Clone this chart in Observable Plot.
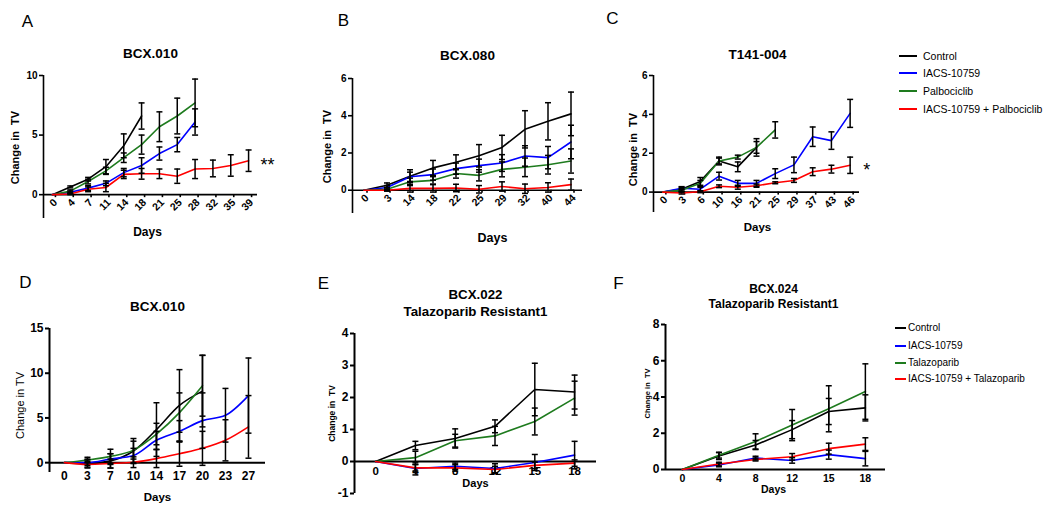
<!DOCTYPE html>
<html><head><meta charset="utf-8">
<script src="https://cdn.jsdelivr.net/npm/d3@7"></script>
<script src="https://cdn.jsdelivr.net/npm/@observablehq/plot@0.6"></script>
<style>
body{margin:0;background:#fff;font-family:"Liberation Sans",Arial,sans-serif}
#root{position:relative;width:1050px;height:513px;overflow:hidden;background:#fff}
.panel{position:absolute}
.panel svg{overflow:visible}
.lg{position:absolute;font-size:10px;color:#000;white-space:nowrap;line-height:1}
.lg .row{position:absolute;display:flex;align-items:center}
.lg .sw{display:inline-block;height:2px}
</style></head><body><div id="root"></div>
<script>
// ---------- data ----------
const colorControl = "#000000", colorIacs = "#0000ff", colorDrug = "#1e7b1e", colorCombo = "#ff0000";
const legendTop = ["Control", "IACS-10759", "Palbociclib", "IACS-10759 + Palbociclib"];
const legendBottom = ["Control", "IACS-10759", "Talazoparib", "IACS-10759 + Talazoparib"];
const legendColors = [colorControl, colorIacs, colorDrug, colorCombo];

// Panel A  BCX.010 (Palbociclib)
const daysA = [0, 4, 7, 11, 14, 18, 21, 25, 28, 32, 35, 39];
const aControl = [0, 0.65, 1.3, 2.35, 4.1, 6.6];
const aControlErr = [0, 0.08, 0.15, 0.6, 1.0, 1.1];
const aIacs = [0, 0.2, 0.55, 0.95, 1.85, 2.45, 3.45, 4.2, 6.1];
const aIacsErr = [0, 0.1, 0.2, 0.2, 0.35, 0.65, 0.55, 0.6, 1.1];
const aPalbo = [0, 0.3, 1.1, 2.0, 3.1, 4.2, 5.7, 6.6, 7.7];
const aPalboErr = [0, 0.1, 0.2, 0.3, 0.4, 0.8, 1.25, 1.5, 2.0];
const aCombo = [0, 0.05, 0.45, 0.6, 1.7, 1.75, 1.75, 1.55, 2.15, 2.2, 2.45, 2.85];
const aComboErr = [0, 0.05, 0.2, 0.35, 0.35, 0.45, 0.4, 0.6, 0.8, 0.7, 0.9, 0.9];

// Panel B  BCX.080
const daysB = [0, 3, 14, 18, 22, 25, 29, 32, 40, 44];
const bControl = [0, 0.27, 0.75, 1.2, 1.5, 1.85, 2.3, 3.27, 3.7, 4.1];
const bControlErr = [0, 0.12, 0.35, 0.4, 0.4, 0.6, 0.65, 1.0, 1.0, 1.17];
const bIacs = [0, 0.15, 0.72, 0.84, 1.16, 1.32, 1.46, 1.84, 1.75, 2.59];
const bIacsErr = [0, 0.1, 0.25, 0.3, 0.3, 0.35, 0.45, 0.55, 0.6, 0.9];
const bPalbo = [0, 0.05, 0.45, 0.53, 0.9, 0.8, 1.12, 1.23, 1.37, 1.57];
const bPalboErr = [0, 0.08, 0.2, 0.2, 0.25, 0.3, 0.4, 0.5, 0.5, 0.65];
const bCombo = [0, 0, 0.1, 0.1, 0.12, 0.05, 0.2, 0.08, 0.15, 0.3];
const bComboErr = [0, 0.05, 0.2, 0.2, 0.2, 0.2, 0.25, 0.25, 0.25, 0.3];

// Panel C  T141-004
const daysC = [0, 3, 6, 10, 16, 21, 25, 29, 37, 43, 46];
const cControl = [0, 0.15, 0.55, 1.6, 1.3, 2.3];
const cControlErr = [0, 0.1, 0.2, 0.2, 0.25, 0.45];
const cIacs = [0, 0.2, 0.15, 0.82, 0.45, 0.45, 0.95, 1.4, 2.85, 2.65, 4.05];
const cIacsErr = [0, 0.08, 0.1, 0.2, 0.15, 0.15, 0.25, 0.4, 0.5, 0.45, 0.72];
const cPalbo = [0, 0.1, 0.45, 1.6, 1.8, 2.3, 3.2];
const cPalboErr = [0, 0.08, 0.15, 0.15, 0.1, 0.3, 0.42];
const cCombo = [0, -0.05, 0.02, 0.3, 0.25, 0.33, 0.48, 0.6, 1.05, 1.18, 1.38];
const cComboErr = [0, 0.05, 0.05, 0.07, 0.1, 0.08, 0.05, 0.1, 0.2, 0.2, 0.42];

// Panel D  BCX.010 (Talazoparib)
const daysD = [0, 3, 7, 10, 14, 17, 20, 23, 27];
const dControl = [0, -0.1, 0.2, 1.3, 3.7, 6.4, 8.0];
const dControlErr = [0, 0.5, 0.8, 1.4, 3.0, 4.0, 4.0];
const dIacs = [0, 0.0, 0.4, 0.8, 2.5, 3.5, 4.7, 5.3, 7.5];
const dIacsErr = [0, 0.3, 0.6, 0.8, 1.0, 1.2, 3.1, 3.0, 4.2];
const dTala = [0, 0.3, 0.7, 1.4, 3.2, 5.6, 8.6];
const dTalaErr = [0, 0.3, 0.8, 1.0, 1.2, 2.2, 3.4];
const dCombo = [0, -0.2, -0.1, 0.05, 0.45, 1.0, 1.6, 2.5, 4.0];
const dComboErr = [0, 0.3, 0.5, 0.6, 1.0, 1.4, 1.9, 2.3, 3.5];

// Panel E  BCX.022
const daysE = [0, 4, 8, 12, 15, 18];
const eControl = [0, 0.5, 0.72, 1.1, 2.25, 2.17];
const eControlErr = [0, 0.13, 0.3, 0.2, 0.82, 0.53];
const eIacs = [0, -0.22, -0.15, -0.22, -0.03, 0.2];
const eIacsErr = [0, 0.2, 0.1, 0.15, 0.25, 0.43];
const eTala = [0, 0.12, 0.65, 0.8, 1.25, 1.98];
const eTalaErr = [0, 0.2, 0.2, 0.3, 0.42, 0.53];
const eCombo = [0, -0.2, -0.2, -0.25, -0.12, -0.05];
const eComboErr = [0, 0.1, 0.1, 0.1, 0.1, 0.1];

// Panel F  BCX.024
const daysF = [0, 4, 8, 12, 15, 18];
const fControl = [0, 0.75, 1.35, 2.2, 3.2, 3.4];
const fControlErr = [0, 0.2, 0.25, 0.5, 0.72, 0.72];
const fIacs = [0, 0.25, 0.63, 0.5, 0.82, 0.6];
const fIacsErr = [0, 0.1, 0.1, 0.15, 0.25, 0.4];
const fTala = [0, 0.78, 1.55, 2.45, 3.35, 4.3];
const fTalaErr = [0, 0.15, 0.42, 0.86, 1.27, 1.53];
const fCombo = [0, 0.3, 0.55, 0.7, 1.15, 1.4];
const fComboErr = [0, 0.1, 0.08, 0.18, 0.3, 0.35];

// ---------- drawing ----------
const FONT = '"Liberation Sans", Arial, Helvetica, sans-serif';
const capSymbol = {draw(ctx, size) { const r = Math.sqrt(size / Math.PI); ctx.moveTo(-r, 0); ctx.lineTo(r, 0); }};

function makePanel(p) {
  const n = p.days.length;
  const [y0, y1] = p.yDomain;
  const plotH = p.fb - p.ft;
  const zeroUp = (0 - y0) / (y1 - y0) * plotH; // px from frame bottom up to y=0
  const pts = [], bars = [], caps = [];
  p.series.forEach((s, k) => s.values.forEach((v, i) => {
    pts.push({k, i, v});
    const e = s.errors[i];
    if (e > 0) { bars.push({i, lo: v - e, hi: v + e}); caps.push({i, y: v - e}, {i, y: v + e}); }
  }));
  const cx = (p.fl + p.fr) / 2, cy = (p.ft + p.fb) / 2;
  const marks = [
    Plot.ruleY([0], {stroke: "#000", strokeWidth: p.axisW}),
    Plot.ruleX([{x: p.xDomain[0], a: y0, b: y1}], {x: "x", y1: "a", y2: "b", stroke: "#000", strokeWidth: p.axisW}),
    Plot.axisY(p.yTicks, {tickSize: 4, tickPadding: 2, strokeWidth: p.axisW, fontSize: p.yTickFont, fontWeight: "bold", fill: "#000",
      tickFormat: d => (d < 0 ? "-" + Math.abs(d) : String(d)), label: null}),
    Plot.axisX(d3.range(n), {tickFormat: i => String(p.days[i]), tickSize: p.xTickSize, tickPadding: p.xTickPad,
      tickRotate: p.xRotate, dy: -zeroUp, dx: p.xLabelDx || 0, strokeWidth: p.axisW, fontSize: p.xTickFont, fontWeight: "bold", fill: "#000", label: null}),
    ...p.series.map((s, k) => Plot.line(pts.filter(d => d.k === k), {x: "i", y: "v", stroke: s.color, strokeWidth: 1.6, curve: p.curve || "linear"})),
    Plot.ruleX(bars, {x: "i", y1: "lo", y2: "hi", stroke: "#000", strokeWidth: 1.5}),
    Plot.dot(caps, {x: "i", y: "y", r: p.capR, symbol: capSymbol, stroke: "#000", strokeWidth: 1.5, fill: "none"}),
    Plot.text([p.title], {frameAnchor: "top", textAnchor: "middle", lineAnchor: "middle", dx: p.titleX - cx, dy: p.titleY - p.ft,
      fontSize: p.titleFont, fontWeight: "bold", fill: "#000", lineHeight: p.titleLH || 1.2}),
    Plot.text([p.letter], {frameAnchor: "top-left", textAnchor: "middle", lineAnchor: "middle", dx: p.letterX - p.fl, dy: p.letterY - p.ft,
      fontSize: 17, fontWeight: "normal", fill: "#000"}),
    Plot.text([p.yLabel], {frameAnchor: "left", textAnchor: "middle", lineAnchor: "middle", rotate: -90, dx: p.yLabelX - p.fl, dy: p.yLabelY - cy,
      fontSize: p.yLabelFont, fontWeight: p.yLabelWeight, fill: "#000"}),
    Plot.text(["Days"], {frameAnchor: "bottom", textAnchor: "middle", lineAnchor: "middle", dx: p.daysX - cx, dy: p.daysY - p.fb,
      fontSize: p.daysFont, fontWeight: "bold", fill: "#000"})
  ];
  if (p.star) {
    const s = p.series[3];
    const last = s.values.length - 1;
    marks.push(Plot.text([{i: last, v: s.values[last]}], {x: "i", y: "v", text: () => p.star, dx: p.starDx, dy: 5,
      textAnchor: "start", lineAnchor: "middle", fontSize: 18, fontWeight: "normal", fill: "#000"}));
  }
  const svg = Plot.plot({
    width: p.w, height: p.h,
    marginLeft: p.fl - p.ox, marginRight: p.ox + p.w - p.fr,
    marginTop: p.ft - p.oy, marginBottom: p.oy + p.h - p.fb,
    x: {type: "linear", domain: p.xDomain},
    y: {type: "linear", domain: p.yDomain},
    style: {fontFamily: FONT, background: "transparent", color: "#000", overflow: "visible"},
    marks
  });
  const div = document.createElement("div");
  div.className = "panel";
  div.style.left = p.ox + "px"; div.style.top = p.oy + "px";
  div.appendChild(svg);
  document.getElementById("root").appendChild(div);
}

function ser(vals, errs) { return vals.map((v, k) => ({values: v, errors: errs[k], color: legendColors[k]})); }

const topCommon = {xRotate: -45, xTickSize: 3, xTickPad: 3, xLabelDx: 3, xTickFont: 10.5, axisW: 1.6, capR: 3,
  yLabelFont: 11, yLabelWeight: "bold", titleFont: 13.5};
const botCommon = {xRotate: 0, xTickSize: 0, axisW: 2, capR: 3};

makePanel({...topCommon, ox: 0, oy: 0, w: 300, h: 250, fl: 43, fr: 257, ft: 75, fb: 218,
  yDomain: [-2, 10], xDomain: [-0.5, 11.5], yTicks: [0, 5, 10], yTickFont: 10, days: daysA,
  series: ser([aControl, aIacs, aPalbo, aCombo], [aControlErr, aIacsErr, aPalboErr, aComboErr]),
  title: "BCX.010", titleX: 150, titleY: 52, letter: "A", letterX: 27, letterY: 21,
  yLabel: "Change in  TV", yLabelX: 15, yLabelY: 147, daysX: 147, daysY: 232, daysFont: 12, star: "**", starDx: 12});

makePanel({...topCommon, ox: 300, oy: 0, w: 300, h: 250, fl: 352, fr: 582, ft: 78, fb: 213,
  yDomain: [-1.25, 6], xDomain: [-0.5, 9.5], yTicks: [0, 2, 4, 6], yTickFont: 10, days: daysB,
  series: ser([bControl, bIacs, bPalbo, bCombo], [bControlErr, bIacsErr, bPalboErr, bComboErr]),
  title: "BCX.080", titleX: 467, titleY: 54, letter: "B", letterX: 343, letterY: 20,
  yLabel: "Change in  TV", yLabelX: 327, yLabelY: 146, daysX: 492, daysY: 237, daysFont: 12.5});

makePanel({...topCommon, ox: 600, oy: 0, w: 290, h: 250, fl: 653, fr: 859, ft: 75, fb: 212,
  yDomain: [-1.05, 6], xDomain: [-0.5, 10.5], yTicks: [0, 2, 4, 6], yTickFont: 10, days: daysC,
  series: ser([cControl, cIacs, cPalbo, cCombo], [cControlErr, cIacsErr, cPalboErr, cComboErr]),
  title: "T141-004", titleX: 757, titleY: 53, letter: "C", letterX: 612, letterY: 18,
  yLabel: "Change in  TV", yLabelX: 633, yLabelY: 149, daysX: 757, daysY: 227, daysFont: 11.5, star: "*", starDx: 13});

makePanel({...botCommon, ox: 0, oy: 255, w: 300, h: 258, fl: 49, fr: 265, ft: 328, fb: 472,
  yDomain: [-1.1, 15], xDomain: [-0.65, 8.74], yTicks: [0, 5, 10, 15], yTickFont: 12, xTickFont: 12, xTickPad: 9,
  days: daysD, curve: "monotone-x",
  series: ser([dControl, dIacs, dTala, dCombo], [dControlErr, dIacsErr, dTalaErr, dComboErr]),
  title: "BCX.010", titleX: 157, titleY: 305, titleFont: 13.5, letter: "D", letterX: 25, letterY: 282,
  yLabel: "Change in TV", yLabelX: 20, yLabelY: 405, yLabelFont: 11, yLabelWeight: "normal",
  daysX: 157, daysY: 497, daysFont: 11.5});

makePanel({...botCommon, ox: 300, oy: 255, w: 305, h: 258, fl: 354, fr: 596, ft: 333, fb: 493,
  yDomain: [-1, 4], xDomain: [-0.53, 5.55], yTicks: [-1, 0, 1, 2, 3, 4], yTickFont: 12, xTickFont: 11.5, xTickPad: 5,
  days: daysE,
  series: ser([eControl, eIacs, eTala, eCombo], [eControlErr, eIacsErr, eTalaErr, eComboErr]),
  title: "BCX.022\nTalazoparib Resistant1", titleX: 475, titleY: 301.5, titleFont: 13.3, titleLH: 1.28,
  letter: "E", letterX: 323, letterY: 283,
  yLabel: "Change in  TV", yLabelX: 332, yLabelY: 413, yLabelFont: 8.5, yLabelWeight: "bold",
  daysX: 475, daysY: 483, daysFont: 11});

makePanel({...botCommon, ox: 605, oy: 255, w: 290, h: 258, fl: 665, fr: 885, ft: 324, fb: 469,
  yDomain: [0, 8], xDomain: [-0.46, 5.55], yTicks: [0, 2, 4, 6, 8], yTickFont: 12, xTickFont: 10.5, xTickPad: 5,
  days: daysF,
  series: ser([fControl, fIacs, fTala, fCombo], [fControlErr, fIacsErr, fTalaErr, fComboErr]),
  title: "BCX.024\nTalazoparib Resistant1", titleX: 773, titleY: 295.5, titleFont: 12, titleLH: 1.25,
  letter: "F", letterX: 618, letterY: 283,
  yLabel: "Change in  TV", yLabelX: 647, yLabelY: 393, yLabelFont: 7.5, yLabelWeight: "bold",
  daysX: 773, daysY: 489, daysFont: 10.5});

// legends
function makeLegend(names, x, swW, textX, rowsY, fontSize) {
  const lg = document.createElement("div");
  lg.className = "lg";
  lg.style.fontSize = fontSize + "px";
  names.forEach((name, k) => {
    const row = document.createElement("div");
    row.className = "row";
    row.style.left = x + "px";
    row.style.top = (rowsY[k] - 7) + "px";
    row.style.height = "14px";
    const sw = document.createElement("span");
    sw.className = "sw";
    sw.style.width = swW + "px";
    sw.style.background = legendColors[k];
    sw.style.marginRight = (textX - x - swW) + "px";
    const t = document.createElement("span");
    t.textContent = name;
    row.appendChild(sw); row.appendChild(t);
    lg.appendChild(row);
  });
  document.getElementById("root").appendChild(lg);
}
makeLegend(legendTop, 899, 18, 923, [56, 73, 91, 109], 10.5);
makeLegend(legendBottom, 895, 11, 908, [328, 346, 363, 379], 10);
</script></body></html>
